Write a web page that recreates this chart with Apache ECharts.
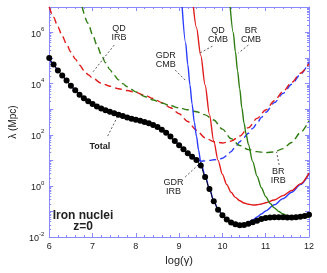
<!DOCTYPE html>
<html>
<head>
<meta charset="utf-8">
<script src="https://cdn.jsdelivr.net/npm/echarts@6/dist/echarts.min.js"></script>
<style>
  html, body { margin: 0; padding: 0; background: #fff; }
  #chart { width: 327px; height: 273px; }
</style>
</head>
<body>
<div id="chart"></div>
<script>
// ---- data (y values are log10 of lambda in Mpc) ----
const totalX = [6.0,6.1,6.2,6.3,6.4,6.5,6.6,6.7,6.8,6.9,7.0,7.1,7.2,7.3,7.4,7.5,7.6,7.7,7.8,7.9,8.0,8.1,8.2,8.3,8.4,8.5,8.6,8.7,8.8,8.9,9.0,9.1,9.2,9.3,9.4,9.5,9.6,9.7,9.8,9.9,10.0,10.1,10.2,10.3,10.4,10.5,10.6,10.7,10.8,10.9,11.0,11.1,11.2,11.3,11.4,11.5,11.6,11.7,11.8,11.9,12.0];
const totalLog = [5.0,4.75,4.52,4.32,4.12,3.92,3.74,3.57,3.43,3.31,3.2,3.11,3.03,2.96,2.9,2.84,2.78,2.73,2.68,2.63,2.59,2.55,2.5,2.45,2.38,2.3,2.2,2.08,1.93,1.76,1.59,1.43,1.28,1.14,1.01,0.8,0.35,-0.12,-0.6,-0.93,-1.15,-1.32,-1.43,-1.5,-1.54,-1.53,-1.48,-1.42,-1.36,-1.3,-1.26,-1.24,-1.23,-1.23,-1.23,-1.24,-1.24,-1.23,-1.21,-1.18,-1.13];

const gdrIrbX = [6.0,6.1,6.2,6.3,6.4,6.5,6.6,6.7,6.8,6.9,7.0,7.1,7.2,7.3,7.4,7.5,7.6,7.7,7.8,7.9,8.0,8.1,8.2,8.3,8.4,8.5,8.6,8.7,8.8,8.9,9.0,9.1,9.2,9.3,9.4,9.5,9.6,9.7,9.8,9.9,10.0,10.1,10.2,10.3,10.4,10.5,10.6,10.7,10.8,10.9,11.0,11.2,11.4,11.6,11.8,12.0];
const gdrIrbLog = [5.0,4.75,4.52,4.32,4.12,3.92,3.74,3.57,3.43,3.31,3.2,3.11,3.03,2.96,2.9,2.84,2.78,2.73,2.68,2.63,2.59,2.55,2.5,2.45,2.38,2.3,2.2,2.08,1.93,1.76,1.6,1.44,1.29,1.15,1.04,0.97,0.98,1.0,1.02,1.04,1.08,1.18,1.34,1.53,1.73,1.9,2.06,2.25,2.45,2.68,2.88,3.26,3.62,3.98,4.36,4.86];

const qdIrbX = [6.0,6.1,6.2,6.3,6.4,6.5,6.6,6.7,6.8,6.9,7.0,7.2,7.4,7.6,7.8,8.0,8.2,8.4,8.6,8.8,9.0,9.2,9.4,9.6,9.8,10.0,10.2,10.4,10.6,10.8,11.0,11.2,11.4,11.6,11.8,12.0];
const qdIrbLog = [7.0,6.6,6.22,5.87,5.54,5.24,4.97,4.73,4.52,4.35,4.22,4.02,3.9,3.8,3.73,3.66,3.55,3.42,3.26,3.06,2.82,2.52,2.18,1.88,1.73,1.68,1.75,1.95,2.28,2.64,2.97,3.33,3.69,4.05,4.41,4.78];

const brIrbX = [6.76,6.9,7.0,7.1,7.2,7.3,7.4,7.5,7.6,7.7,7.8,7.9,8.0,8.2,8.4,8.6,8.8,9.0,9.2,9.4,9.6,9.8,10.0,10.2,10.4,10.6,10.8,11.0,11.2,11.4,11.6,11.8,12.0];
const brIrbLog = [7.0,6.36,5.92,5.52,5.14,4.82,4.55,4.33,4.15,4.0,3.88,3.77,3.68,3.5,3.36,3.24,3.14,3.05,2.98,2.9,2.78,2.58,2.22,1.85,1.58,1.42,1.34,1.3,1.33,1.46,1.7,2.08,2.55];

const gdrCmbX = [9.07,9.15,9.2,9.25,9.3,9.35,9.4,9.45,9.5,9.6,9.7,9.8,9.9,10.0,10.1,10.2,10.3,10.4,10.5,10.6,10.7,10.8,10.9,11.0,11.2,11.4,11.6,11.8,12.0];
const gdrCmbLog = [7.0,5.6,4.75,3.95,3.2,2.5,1.95,1.4,0.92,0.4,-0.1,-0.58,-0.92,-1.13,-1.3,-1.42,-1.5,-1.53,-1.5,-1.43,-1.33,-1.22,-1.1,-0.98,-0.74,-0.5,-0.25,0.05,0.47];

const qdCmbX = [9.33,9.4,9.5,9.6,9.7,9.8,9.9,10.0,10.1,10.2,10.3,10.4,10.5,10.6,10.7,10.8,10.9,11.0,11.2,11.4,11.6,11.8,12.0];
const qdCmbLog = [7.0,6.2,5.1,3.95,2.8,1.75,1.0,0.45,0.05,-0.25,-0.45,-0.58,-0.67,-0.72,-0.75,-0.74,-0.71,-0.66,-0.55,-0.38,-0.18,0.08,0.5];

const brCmbX = [10.18,10.25,10.3,10.35,10.4,10.45,10.5,10.55,10.6,10.7,10.8,10.9,11.0,11.1,11.2,11.3,11.4,11.5,11.6,11.8,12.0];
const brCmbLog = [7.0,6.0,5.25,4.5,3.8,3.05,2.45,2.0,1.62,0.95,0.38,-0.07,-0.42,-0.68,-0.86,-1.0,-1.1,-1.16,-1.2,-1.23,-1.23];

const xTicks = [6,7,8,9,10,11,12];
const yLabelExps = [-2,0,2,4,6];

// annotations (x, log10 y)
const annText = ['QD\nIRB','GDR\nCMB','QD\nCMB','BR\nCMB','Total','GDR\nIRB','BR\nIRB','Iron nuclei','z=0'];
const annX    = [7.61, 8.69, 9.9, 10.66, 7.17, 8.87, 11.29, 6.78, 6.78];
const annLog  = [6.0, 4.93, 5.9, 5.9, 1.56, -0.04, 0.39, -1.16, -1.59];
const annBold = [false,false,false,false,true,false,false,true,true];
const annSize = [9,9,9,9,9,9,9,12,12];

const leadX1 = [7.5, 8.91, 9.77, 10.6, 7.35, 9.14, 11.31];
const leadY1 = [5.51, 4.53, 5.47, 5.51, 1.95, 0.35, 0.82];
const leadX2 = [7.01, 9.14, 9.48, 10.37, 7.57, 9.56, 11.25];
const leadY2 = [4.46, 4.14, 5.2, 5.2, 2.69, 1.01, 1.33];

// ---- build ----
const P = v => Math.pow(10, v);
const pairs = (xs, ls) => xs.map((x, i) => [x, P(ls[i])]);

const BLUE = '#2b3cff', RED = '#e01b1b', GREEN = '#2f7d12';
const AX = '#8a8aff';
const FONT = 'Liberation Sans, Arial, Helvetica, sans-serif';

function lineSeries(name, xs, ls, color, dashed) {
  return {
    name, type: 'line', data: pairs(xs, ls), showSymbol: false, symbol: 'none',
    smooth: 0.3, smoothMonotone: 'x',
    lineStyle: { color, width: 1.4, type: dashed ? [7, 4] : 'solid' },
    xAxisIndex: 0, yAxisIndex: 0, z: 3, animation: false, silent: true
  };
}

const supFmt = v => {
  const e = Math.round(Math.log10(v));
  if (Math.abs(Math.log10(v) - e) > 1e-6) return '';
  if (yLabelExps.indexOf(e) < 0) return '';
  return '{b|10}{s|' + e + '}';
};

const axisCommonX = {
  type: 'value', min: xTicks[0], max: xTicks[xTicks.length - 1], interval: 1,
  axisLine: { show: true, lineStyle: { color: AX, width: 1 } },
  axisTick: { show: true, inside: true, length: 4, lineStyle: { color: AX } },
  minorTick: { show: true, splitNumber: 5, length: 2, lineStyle: { color: AX } },
  splitLine: { show: false }
};
const axisCommonY = {
  type: 'log', logBase: 10, min: P(-2), max: P(7),
  axisLine: { show: true, lineStyle: { color: AX, width: 1 } },
  axisTick: { show: true, inside: true, length: 4, lineStyle: { color: AX } },
  minorTick: { show: true, splitNumber: 9, length: 2, lineStyle: { color: AX } },
  splitLine: { show: false }
};

const option = {
  animation: false,
  backgroundColor: '#fff',
  grid: { left: 41, right: 18, top: 7, bottom: 36, containLabel: false },
  xAxis: [
    Object.assign({}, axisCommonX, {
      position: 'bottom',
      name: 'log(γ)', nameLocation: 'middle', nameGap: 16,
      nameTextStyle: { fontSize: 11, color: '#222', fontFamily: FONT },
      axisLabel: { fontSize: 9, color: '#222', margin: 5, fontFamily: FONT }
    }),
    Object.assign({}, axisCommonX, { position: 'top', axisLabel: { show: false } })
  ],
  yAxis: [
    Object.assign({}, axisCommonY, {
      position: 'left',
      name: 'λ (Mpc)', nameLocation: 'middle', nameGap: 23,
      nameTextStyle: { fontSize: 10, color: '#222', fontFamily: FONT },
      axisLabel: {
        margin: 5, formatter: supFmt, fontFamily: FONT,
        rich: {
          b: { fontSize: 9, color: '#222', fontFamily: FONT, lineHeight: 12, verticalAlign: 'bottom' },
          s: { fontSize: 6, color: '#222', fontFamily: FONT, lineHeight: 8, verticalAlign: 'top' }
        }
      }
    }),
    Object.assign({}, axisCommonY, { position: 'right', axisLabel: { show: false } })
  ],
  series: [
    lineSeries('GDR IRB', gdrIrbX, gdrIrbLog, BLUE, true),
    lineSeries('QD IRB', qdIrbX, qdIrbLog, RED, true),
    lineSeries('BR IRB', brIrbX, brIrbLog, GREEN, true),
    lineSeries('GDR CMB', gdrCmbX, gdrCmbLog, BLUE, false),
    lineSeries('QD CMB', qdCmbX, qdCmbLog, RED, false),
    lineSeries('BR CMB', brCmbX, brCmbLog, GREEN, false),
    {
      name: 'Total', type: 'line', data: pairs(totalX, totalLog),
      symbol: 'circle', symbolSize: 6, showSymbol: true,
      smooth: 0.3, smoothMonotone: 'x',
      itemStyle: { color: '#000' }, lineStyle: { color: '#000', width: 1 },
      z: 5, silent: true
    },
    {
      name: 'annotations', type: 'line', data: [], silent: true, z: 6,
      markLine: {
        silent: true, symbol: ['none', 'none'], animation: false,
        lineStyle: { color: '#333', width: 0.8, type: [2, 2] },
        label: { show: false },
        data: leadX1.map((x, i) => [
          { coord: [x, P(leadY1[i])] },
          { coord: [leadX2[i], P(leadY2[i])] }
        ])
      },
      markPoint: {
        silent: true, animation: false, symbol: 'circle', symbolSize: 1,
        itemStyle: { color: 'rgba(0,0,0,0)' },
        data: annText.map((t, i) => ({
          coord: [annX[i], P(annLog[i])],
          label: {
            show: true, position: 'inside', formatter: t, color: '#222',
            fontSize: annSize[i], lineHeight: annSize[i] <= 9 ? 9 : 11,
            fontWeight: annBold[i] ? 'bold' : 'normal', fontFamily: FONT
          }
        }))
      }
    }
  ]
};

const chart = echarts.init(document.getElementById('chart'), null, { renderer: 'canvas' });
chart.setOption(option);
</script>
</body>
</html>
